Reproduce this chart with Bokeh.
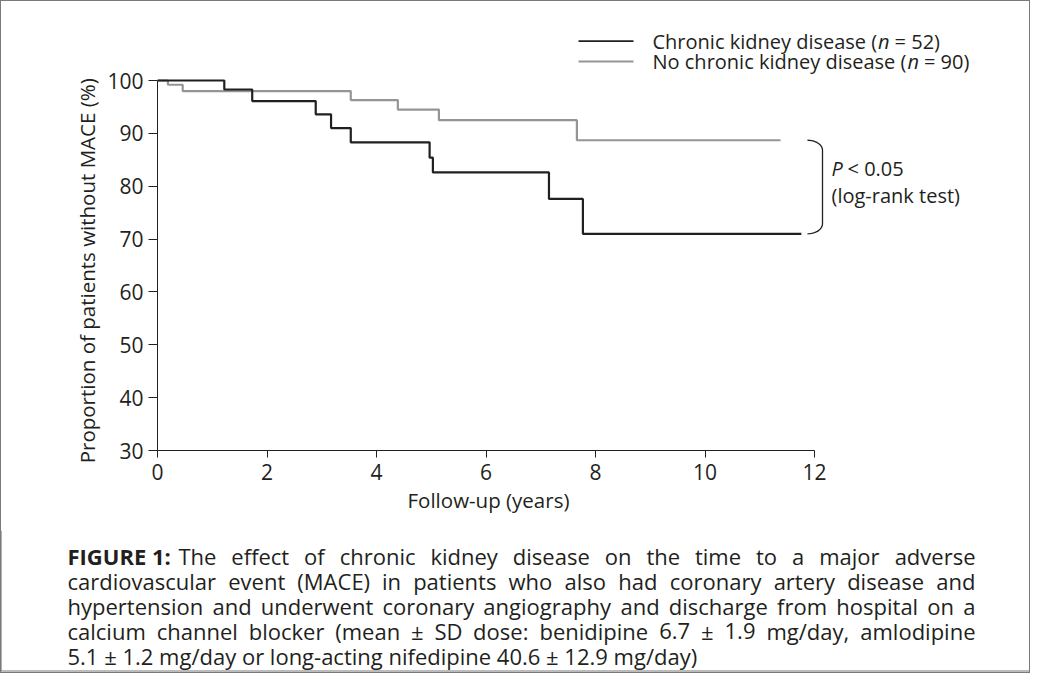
import numpy as np
from bokeh.plotting import figure
from bokeh.layouts import column
from bokeh.models import Range1d, FixedTicker, Label, Title, InlineStyleSheet
from bokeh.embed import file_html
from bokeh.resources import INLINE

# ---------------- data ----------------
ckd_time = [0, 1.22, 1.73, 2.89, 3.17, 3.53, 4.97, 5.03, 7.15, 7.77, 11.76]
ckd_surv = [100, 98.3, 96.1, 93.6, 91.0, 88.3, 85.4, 82.6, 77.6, 71.0, 71.0]
nockd_time = [0, 0.19, 0.46, 3.53, 4.39, 5.14, 7.66, 11.38]
nockd_surv = [100, 99.2, 98.0, 96.3, 94.5, 92.5, 88.7, 88.7]
x_ticks = [0, 2, 4, 6, 8, 10, 12]
y_ticks = [30, 40, 50, 60, 70, 80, 90, 100]
series_names = ["Chronic kidney disease", "No chronic kidney disease"]
series_n = [52, 90]
x_title = "Follow-up (years)"
y_title = "Proportion of patients without MACE (%)"
caption_lead = "FIGURE 1:"
caption_lines = [
    "The effect of chronic kidney disease on the time to a major adverse",
    "cardiovascular event (MACE) in patients who also had coronary artery disease and",
    "hypertension and underwent coronary angiography and discharge from hospital on a",
    "calcium channel blocker (mean \u00b1 SD dose: benidipine 6.7 \u00b1 1.9 mg/day, amlodipine",
    "5.1 \u00b1 1.2 mg/day or long-acting nifedipine 40.6 \u00b1 12.9 mg/day)",
]

# ---------------- styling / layout ----------------
FONT = "Open Sans"
FS_TICK = 21
FS_TITLE = 20.5
FS = 20
TXT = "#231f20"
BLACK = "#231f20"
GREY = "#939598"
BORDER = "#7a7a7a"
W = 1030
HC, HT = 530, 673          # chart figure height, total height
FL, FT, FR, FB = 157, 15, 990, 450
FW, FH = FR - FL, FB - FT
PX_PER_X = 54.75
PX_PER_Y = (450 - 80) / 70.0
X0, Y0 = 0, 30
X1 = X0 + FW / PX_PER_X
Y1 = Y0 + FH / PX_PER_Y

# approximate Open Sans advance widths (units of 1/2048 em) for text layout
_W = {" ": 532, "(": 586, ")": 586, ",": 502, "-": 659, ".": 545, "/": 745, ":": 545,
      "=": 1171, "<": 1171, "\u00b1": 1171, "A": 1296, "C": 1292, "D": 1479, "E": 1139,
      "M": 1839, "N": 1554, "P": 1237, "S": 1104, "T": 1122,
      "a": 1139, "b": 1255, "c": 975, "d": 1255, "e": 1149, "f": 694, "g": 1122,
      "h": 1257, "i": 518, "j": 518, "k": 1075, "l": 518, "m": 1905, "n": 1257,
      "o": 1237, "p": 1255, "q": 1255, "r": 836, "s": 977, "t": 723, "u": 1257,
      "v": 1026, "w": 1593, "x": 1073, "y": 1028, "z": 977}

def tw(s, size):
    return sum(_W.get(c, 1171) for c in s) / 2048.0 * size

def X(px):  # page px -> data x
    return X0 + (px - FL) / PX_PER_X

def Y(py):  # page px -> data y
    return Y1 - (py - FT) / PX_PER_Y

def PY(y):
    return FT + (Y1 - y) * PX_PER_Y

p = figure(width=W, height=HC, output_backend="svg", toolbar_location=None,
           title=None, x_range=Range1d(X0, X1), y_range=Range1d(Y0, Y1),
           min_border_left=FL, min_border_top=FT,
           min_border_right=W - FR, min_border_bottom=HC - FB)
p.outline_line_color = None
p.xgrid.visible = False
p.ygrid.visible = False
p.border_fill_color = None
p.background_fill_color = None

for ax, ticks, bounds in ((p.xaxis[0], x_ticks, (0, 12)), (p.yaxis[0], y_ticks, (30, 100))):
    ax.ticker = FixedTicker(ticks=ticks)
    ax.bounds = bounds
    ax.axis_line_color = BLACK
    ax.axis_line_width = 1
    ax.major_tick_line_color = BLACK
    ax.major_tick_in = 0
    ax.minor_tick_line_color = None
    ax.major_label_text_font = FONT
    ax.major_label_text_font_size = "%gpx" % FS_TICK
    ax.major_label_text_color = TXT
p.xaxis.major_tick_out = 7
p.yaxis.major_tick_out = 9
p.xaxis.major_label_standoff = 6
p.yaxis.major_label_standoff = 5

# axis titles as panel titles (centred on the axis bounds, not on the frame)
xt_w = tw(x_title, FS_TITLE)
p.add_layout(Title(text=x_title, align="left", offset=(PX_PER_X * 6 - xt_w / 2) + 3,
                   standoff=2, text_font=FONT, text_font_size="%gpx" % FS_TITLE,
                   text_font_style="normal", text_color=TXT), "below")
yt_w = tw(y_title, FS_TITLE)
y_mid = PY(65) + 3
p.add_layout(Title(text=y_title, align="left", offset=(FB - (y_mid + yt_w / 2)) - 5,
                   standoff=8, text_font=FONT, text_font_size="%gpx" % FS_TITLE,
                   text_font_style="normal", text_color=TXT), "left")

# curves
p.step(nockd_time, nockd_surv, mode="after", line_color=GREY, line_width=2.2)
p.step(ckd_time, ckd_surv, mode="after", line_color=BLACK, line_width=2.2)

def lab(fig, x, y, text, size=FS, style="normal", align="left", angle=0):
    fig.add_layout(Label(x=x, y=y, text=text, text_font=FONT, text_font_style=style,
                         text_font_size="%gpx" % size, text_color=TXT,
                         text_baseline="middle", text_align=align, angle=angle))

# legend (manual, with italic n)
leg_y_px = [40.7, 61]
for i, (col, ypx) in enumerate(zip([BLACK, GREY], leg_y_px)):
    yy = Y(ypx)
    p.line([X(578), X(633)], [yy, yy], line_color=col, line_width=1.8)
    head = series_names[i] + " ("
    x_n = 652 + tw(head, FS) + 1
    lab(p, X(652), yy, head)
    lab(p, X(x_n), yy, "n", style="italic")
    lab(p, X(x_n + 11.5 + 5), yy, "= %d)" % series_n[i])

# bracket linking the end of both curves
yt, yb = PY(nockd_surv[-1]), PY(ckd_surv[-1])
bx0, rx, ry = 807, 15, 10
t = np.linspace(0, np.pi / 2, 12)
bx = list(bx0 + rx * np.sin(t)) + list(bx0 + rx * np.sin(t[::-1]))
by = list(yt + ry - ry * np.cos(t)) + list(yb - ry + ry * np.cos(t[::-1]))
p.line([X(v) for v in bx], [Y(v) for v in by], line_color=BLACK, line_width=1.3)

lab(p, X(831), Y(168), "P", style="italic")
lab(p, X(847), Y(168), "< 0.05")
lab(p, X(831), Y(195), "(log-rank test)")

# ---------------- caption figure ----------------
cap = figure(width=W, height=HT - HC, output_backend="svg", toolbar_location=None,
             title=None, x_range=Range1d(0, W), y_range=Range1d(HT, HC),
             x_axis_type=None, y_axis_type=None, min_border=0)
cap.outline_line_color = None
cap.xgrid.visible = False
cap.ygrid.visible = False
cap.border_fill_color = None
cap.background_fill_color = None
for fig in (p, cap):
    if "frame_align" in fig.properties():
        fig.frame_align = False

# closing border of the figure box (bottom edge)
cap.line([0.5, 0.5, W - 0.5, W - 0.5], [HC, HT - 2.5, HT - 2.5, HC],
         line_color=BORDER, line_width=1.2)

CFS = 22
CL, CR = 67, 975
cap_y = [555, 580, 605, 630, 655]
lead_w = 102
lab(cap, CL, cap_y[0], caption_lead, size=CFS, style="bold")
for i, line in enumerate(caption_lines):
    left = CL + lead_w + 9 if i == 0 else CL
    if i == len(caption_lines) - 1:
        lab(cap, left, cap_y[i], line, size=CFS)
        continue
    words = line.split(" ")
    widths = [tw(w_, CFS) for w_ in words]
    gap = (CR - left - sum(widths)) / (len(words) - 1)
    xpos = left
    for j, (w_, wd) in enumerate(zip(words, widths)):
        if j == len(words) - 1:
            lab(cap, CR, cap_y[i], w_, size=CFS, align="right")
        else:
            lab(cap, xpos, cap_y[i], w_, size=CFS)
        xpos += wd + gap

layout = column(p, cap, spacing=0)
layout.stylesheets = [InlineStyleSheet(css=":host { outline: 1px solid %s; outline-offset: -1px; background: white; }" % BORDER)]

open("out.html", "w").write(file_html(layout, INLINE))
